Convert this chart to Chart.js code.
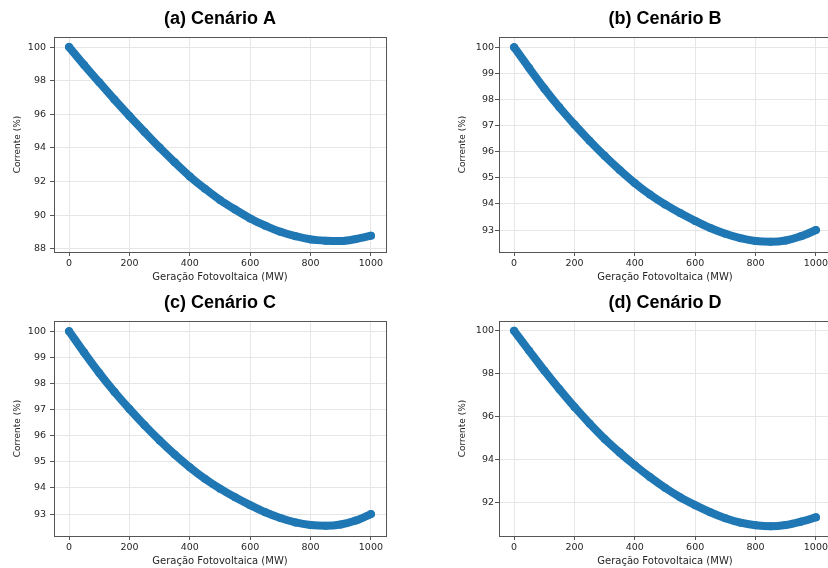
<!DOCTYPE html>
<html lang="pt">
  <head>
    <meta charset="UTF-8" />
    <title>Corrente x Geração Fotovoltaica</title>
    <script src="https://cdn.jsdelivr.net/npm/chart.js"></script>
    <style>
      body {
        margin: 0;
        width: 828px;
        height: 568px;
        overflow: hidden;
        background: #fff;
        position: relative;
      }
      canvas {
        position: absolute;
      }
      #chartA { left: 0; top: 0; }
      #chartB { left: 445px; top: 0; }
      #chartC { left: 0; top: 284px; }
      #chartD { left: 445px; top: 284px; }
    </style>
  </head>
  <body>
    <canvas id="chartA" width="414" height="284"></canvas>
    <canvas id="chartB" width="414" height="284"></canvas>
    <canvas id="chartC" width="414" height="284"></canvas>
    <canvas id="chartD" width="414" height="284"></canvas>

    <script>
      // geração FV (MW) e corrente (%)
      const genMW = [0, 50, 100, 150, 200, 250, 300, 350, 400, 450, 500,
        550, 600, 650, 700, 750, 800, 850, 900, 950, 1000];
      const correnteA = [100.0, 98.93, 97.9, 96.88, 95.9, 94.95, 94.02, 93.14, 92.3, 91.57, 90.9,
        90.33, 89.8, 89.37, 89.0, 88.74, 88.55, 88.47, 88.45, 88.57, 88.77];
      const correnteB = [100.0, 99.2, 98.42, 97.7, 97.04, 96.42, 95.84, 95.3, 94.8, 94.36, 93.98,
        93.65, 93.35, 93.08, 92.86, 92.69, 92.58, 92.55, 92.6, 92.76, 93.0];
      const correnteC = [100.0, 99.18, 98.4, 97.68, 97.02, 96.4, 95.82, 95.28, 94.79, 94.35, 93.97,
        93.64, 93.34, 93.07, 92.85, 92.68, 92.58, 92.55, 92.6, 92.75, 93.0];
      const correnteD = [100.0, 99.07, 98.15, 97.28, 96.45, 95.68, 94.96, 94.32, 93.73, 93.18, 92.68,
        92.24, 91.87, 91.54, 91.26, 91.05, 90.93, 90.88, 90.94, 91.1, 91.3];

      const xTicks = [0, 200, 400, 600, 800, 1000];
      const yTicksA = [88, 90, 92, 94, 96, 98, 100];
      const yTicksBC = [93, 94, 95, 96, 97, 98, 99, 100];
      const yTicksD = [92, 94, 96, 98, 100];
      const titles = ["(a) Cenário A", "(b) Cenário B", "(c) Cenário C", "(d) Cenário D"];

      const tickFont = { family: "DejaVu Sans", size: 9.5 };

      // moldura do eixo (estilo matplotlib)
      const framePlugin = {
        id: "frame",
        afterDatasetsDraw(chart) {
          const { ctx, chartArea: a } = chart;
          ctx.save();
          ctx.strokeStyle = "#555";
          ctx.lineWidth = 1;
          ctx.strokeRect(Math.round(a.left) + 0.5, Math.round(a.top) + 0.5,
            Math.round(a.right - a.left), Math.round(a.bottom - a.top));
          ctx.restore();
        },
      };

      function makePanel(id, title, values, yMin, yMax, yTicks, tickPad) {
        const points = genMW.map((x, i) => ({ x: x, y: values[i] }));
        return new Chart(document.getElementById(id), {
          type: "scatter",
          data: {
            datasets: [
              {
                data: points,
                showLine: true,
                cubicInterpolationMode: "monotone",
                borderColor: "#1f77b4",
                borderWidth: 8,
                borderCapStyle: "round",
                borderJoinStyle: "round",
                pointRadius: 4,
                pointBorderWidth: 0,
                pointBackgroundColor: "#1f77b4",
              },
            ],
          },
          options: {
            responsive: false,
            animation: false,
            devicePixelRatio: 1,
            layout: { padding: { left: 0, right: 28, top: 0, bottom: 0 } },
            plugins: {
              legend: { display: false },
              tooltip: { enabled: false },
              title: {
                display: true,
                text: title,
                fullSize: false,
                color: "#000",
                font: { family: "Liberation Sans", size: 18, weight: "bold" },
                padding: { top: 8, bottom: 7.4 },
              },
            },
            scales: {
              x: {
                type: "linear",
                min: -50,
                max: 1050,
                afterBuildTicks: (s) => {
                  s.ticks = xTicks.map((v) => ({ value: v }));
                },
                afterFit: (s) => {
                  s.height = 32;
                },
                ticks: {
                  font: tickFont,
                  color: "#262626",
                  padding: 2,
                  maxRotation: 0,
                  callback: (v) => String(v),
                },
                grid: { color: "#e6e6e6", tickColor: "#555", tickLength: 4 },
                border: { display: false },
                title: {
                  display: true,
                  text: "Geração Fotovoltaica (MW)",
                  color: "#262626",
                  font: { family: "DejaVu Sans", size: 10 },
                  padding: { top: 0, bottom: 1 },
                },
              },
              y: {
                min: yMin,
                max: yMax,
                afterBuildTicks: (s) => {
                  s.ticks = yTicks.map((v) => ({ value: v }));
                },
                afterFit: (s) => {
                  s.width = 54;
                },
                ticks: {
                  font: tickFont,
                  color: "#262626",
                  padding: tickPad,
                  callback: (v) => String(v),
                },
                grid: { color: "#e6e6e6", tickColor: "#555", tickLength: 4 },
                border: { display: false },
                title: {
                  display: true,
                  text: "Corrente (%)",
                  color: "#262626",
                  font: { family: "DejaVu Sans", size: 9 },
                  padding: { top: 12, bottom: 0 },
                },
              },
            },
          },
          plugins: [framePlugin],
        });
      }

      makePanel("chartA", titles[0], correnteA, 87.8, 100.6, yTicksA, 4);
      makePanel("chartB", titles[1], correnteB, 92.16, 100.39, yTicksBC, 1);
      makePanel("chartC", titles[2], correnteC, 92.16, 100.39, yTicksBC, 4);
      makePanel("chartD", titles[3], correnteD, 90.43, 100.46, yTicksD, 1);
    </script>
  </body>
</html>
